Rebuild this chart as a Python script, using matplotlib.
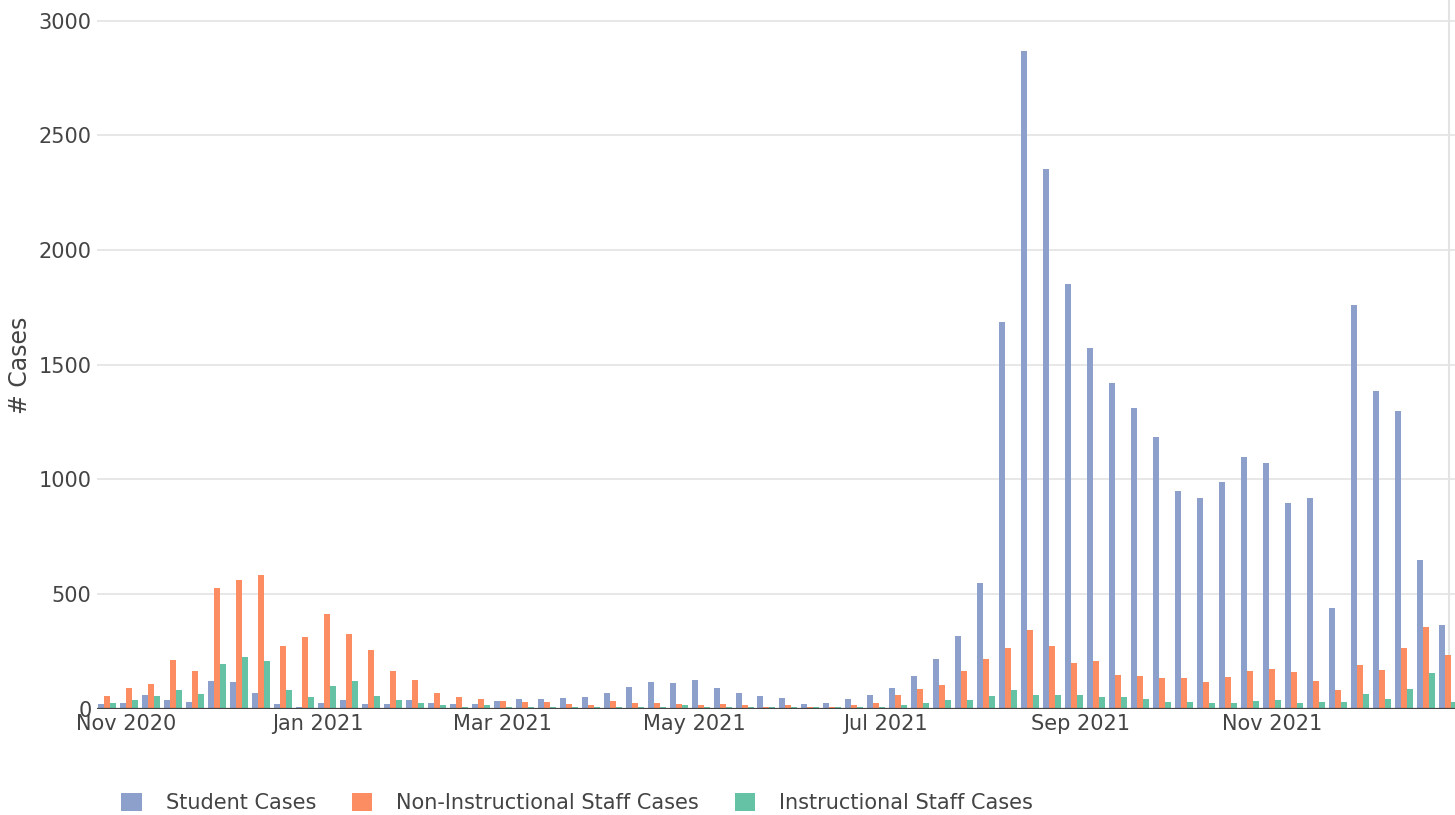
import numpy as np
import pandas as pd
import matplotlib
matplotlib.use("Agg")
import matplotlib.pyplot as plt
import matplotlib.dates as mdates

# weekly counts, week starting Mondays
weeks = pd.date_range("2020-10-26", periods=62, freq="7D")

student = [20, 25, 60, 38, 29, 120, 116, 68, 20, 7, 25,
           38, 20, 20, 38, 25, 20, 20, 33, 42, 42, 46,
           51, 68, 94, 116, 112, 125, 90, 68, 55, 46, 20,
           25, 42, 60, 90, 142, 216, 317, 548, 1684, 2867, 2352,
           1850, 1571, 1418, 1313, 1186, 950, 920, 990, 1099, 1073, 898,
           920, 439, 1758, 1387, 1300, 650, 365]
non_instr = [55, 90, 107, 212, 164, 526, 561, 583, 273, 312, 413,
             325, 256, 164, 125, 68, 51, 42, 33, 29, 29, 20,
             16, 33, 25, 25, 20, 16, 20, 16, 7, 16, 7,
             7, 16, 25, 60, 86, 103, 164, 216, 264, 343, 273,
             199, 208, 147, 142, 134, 134, 116, 138, 164, 173, 160,
             120, 81, 190, 168, 264, 356, 234]
instr = [25, 38, 55, 81, 64, 195, 225, 208, 81, 51, 99,
         120, 55, 38, 25, 16, 7, 16, 7, 7, 7, 7,
         7, 7, 7, 7, 16, 7, 7, 7, 7, 7, 7,
         7, 7, 7, 16, 25, 38, 38, 55, 81, 60, 60,
         60, 51, 51, 42, 29, 29, 25, 25, 33, 38, 25,
         29, 29, 64, 42, 86, 155, 29]

series = [("Student Cases", student, "#8DA0CB"),
          ("Non-Instructional Staff Cases", non_instr, "#FC8D62"),
          ("Instructional Staff Cases", instr, "#66C2A5")]

plt.rcParams["font.family"] = ["DejaVu Sans"]
W, H = 1455, 815
fig = plt.figure(figsize=(W / 100, H / 100), dpi=100)
ax = fig.add_axes([97 / W, (H - 708.7) / H, (W - 97) / W, 708.7 / H])

x = mdates.date2num(weeks)
bw = 1.91  # days per bar
for i, (name, vals, col) in enumerate(series):
    ax.bar(x + (i - 1) * bw, vals, width=bw, color=col, label=name,
           linewidth=0, zorder=2)

nov1 = mdates.date2num(pd.Timestamp("2020-11-01"))
ax.set_xlim(nov1 - 9.24, nov1 + 423.3)
ax.set_ylim(0, 3090)

ax.xaxis.set_major_locator(mdates.MonthLocator(bymonth=[1, 3, 5, 7, 9, 11]))
ax.xaxis.set_major_formatter(mdates.DateFormatter("%b %Y"))
ax.set_yticks(range(0, 3001, 500))
ax.tick_params(axis="both", length=0, labelsize=15, colors="#444444")
ax.tick_params(axis="x", pad=4)
ax.tick_params(axis="y", pad=4)

for s in ax.spines.values():
    s.set_visible(False)
ax.grid(axis="y", color="#e3e3e3", linewidth=1.2, zorder=0)
ax.axhline(0, color="#444444", linewidth=1.6, zorder=3)
ax.axvline(x[-1] + 0.5, color="#e3e3e3", linewidth=1.5, zorder=1)

ax.set_ylabel("# Cases", fontsize=17, color="#444444")
ax.yaxis.set_label_coords(-0.048, 0.485)

fig.legend(loc="center left", bbox_to_anchor=(121 / W, (H - 803) / H),
           ncol=3, frameon=False, fontsize=15, labelcolor="#444444",
           handlelength=1.0, handleheight=1.0, handletextpad=1.15,
           columnspacing=1.7, borderpad=0, borderaxespad=0)

fig.savefig("out.png", dpi=100)
